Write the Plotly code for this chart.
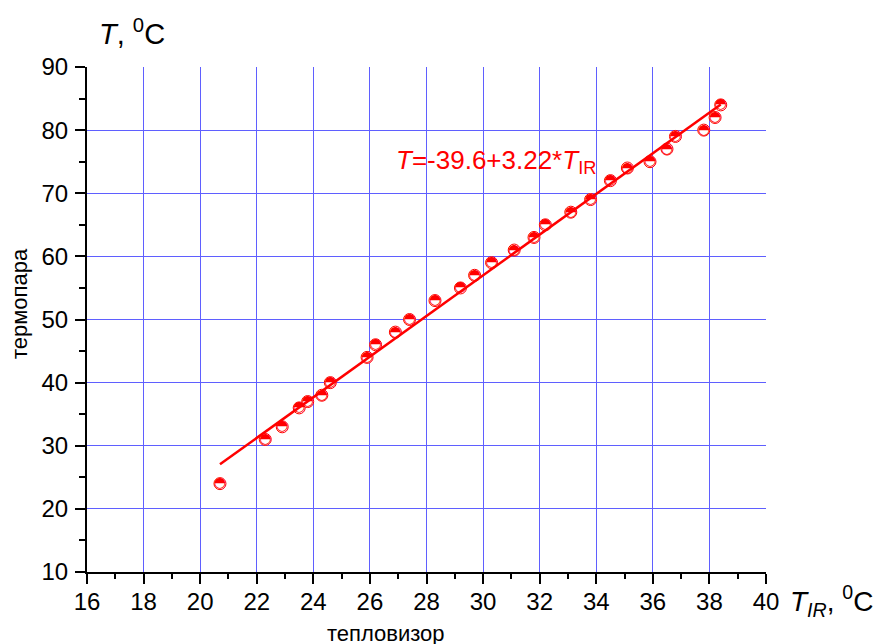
import plotly.graph_objects as go

# Thermal imager reading vs thermocouple reading, deg C
t_ir = [20.7, 22.3, 22.9, 23.5, 23.8, 24.3, 24.6, 25.9, 26.2, 26.9, 27.4, 28.3,
        29.2, 29.7, 30.3, 31.1, 31.8, 32.2, 33.1, 33.8, 34.5, 35.1, 35.9, 36.5,
        36.8, 37.8, 38.2, 38.4]
t_tc = [24, 31, 33, 36, 37, 38, 40, 44, 46, 48, 50, 53,
        55, 57, 59, 61, 63, 65, 67, 69, 72, 74, 75, 77,
        79, 80, 82, 84]

# Linear fit coefficients: T = a + b * T_IR
fit_a = -39.6
fit_b = 3.22

x_ticks = list(range(16, 41, 2))
y_ticks = list(range(10, 91, 10))

RED = "#ff0000"
GRID = "rgb(95,95,255)"
FONT = "Arial, Liberation Sans, sans-serif"

fit_x = [min(t_ir), max(t_ir)]
fit_y = [fit_a + fit_b * v for v in fit_x]

fig = go.Figure()

# open circles (white fill, red rim)
fig.add_trace(go.Scatter(
    x=t_ir, y=t_tc, mode="markers",
    marker=dict(symbol="circle", size=12, color="white",
                line=dict(color=RED, width=1)),
    hoverinfo="skip", showlegend=False,
))

# upper half filled
fig.add_trace(go.Scatter(
    x=t_ir, y=t_tc, mode="text", text=["◓"] * len(t_ir),
    textposition="middle center",
    textfont=dict(family="DejaVu Sans", size=14, color=RED),
    hoverinfo="skip", showlegend=False,
))

# fitted line
fig.add_trace(go.Scatter(
    x=fit_x, y=fit_y, mode="lines",
    line=dict(color=RED, width=2.5),
    hoverinfo="skip", showlegend=False,
))

axis_common = dict(
    showline=True, linecolor="black", linewidth=2,
    ticks="outside", ticklen=10, tickwidth=2, tickcolor="black",
    showgrid=True, gridcolor=GRID, gridwidth=1,
    zeroline=False, mirror=False,
    tickfont=dict(family=FONT, size=24, color="black"),
)

fig.update_xaxes(
    range=[16, 40], tickmode="array", tickvals=x_ticks,
    ticktext=[str(v) for v in x_ticks],
    minor=dict(dtick=1, ticks="outside", ticklen=5, tickwidth=2,
               tickcolor="black", showgrid=False),
    ticklabelstandoff=-3,
    **axis_common,
)
fig.update_yaxes(
    range=[10, 90], tickmode="array", tickvals=y_ticks,
    ticktext=[str(v) for v in y_ticks],
    minor=dict(dtick=5, ticks="outside", ticklen=6, tickwidth=2,
               tickcolor="black", showgrid=False),
    ticklabelstandoff=2,
    **axis_common,
)

annotations = [
    dict(text="<i>T</i>, <sup>0</sup>C", x=0.015, y=1.07, xanchor="left",
         yanchor="middle", font=dict(family=FONT, size=29, color="black")),
    dict(text="<i>T</i><sub><i>IR</i></sub>, <sup>0</sup>C", x=1.033, y=-0.057,
         xanchor="left", yanchor="middle",
         font=dict(family=FONT, size=28, color="black")),
    dict(text="термопара", x=-0.099, y=0.532, xanchor="center", yanchor="middle",
         textangle=-90, font=dict(family=FONT, size=22, color="black")),
    dict(text="тепловизор", x=0.44, y=-0.122, xanchor="center", yanchor="middle",
         font=dict(family=FONT, size=22, color="black")),
    dict(text=f"<i>T</i>={fit_a}+{fit_b}*<i>T</i><sub>IR</sub>",
         x=0.4516, y=0.812, xanchor="left", yanchor="middle",
         font=dict(family=FONT, size=26, color=RED)),
]
for a in annotations:
    a.update(xref="paper", yref="paper", showarrow=False)

fig.update_layout(
    width=879, height=644,
    margin=dict(l=87, r=113, t=67, b=72),
    paper_bgcolor="white", plot_bgcolor="white",
    annotations=annotations,
)

fig.write_html("out.html")
